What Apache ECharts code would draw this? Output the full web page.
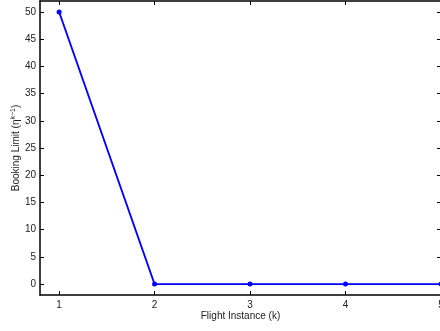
<!DOCTYPE html>
<html><head><meta charset="utf-8">
<script src="https://cdn.jsdelivr.net/npm/echarts@6/dist/echarts.min.js"></script>
<style>html,body{margin:0;padding:0;background:#fff}#c{width:440px;height:331px}</style>
</head><body><div id="c"></div>
<script>
var flightInstance = [1, 2, 3, 4, 5];
var bookingLimit = [50, 0, 0, 0, 0];
var xTicks = [1, 2, 3, 4, 5];
var yTicks = [0, 5, 10, 15, 20, 25, 30, 35, 40, 45, 50];

var chart = echarts.init(document.getElementById('c'));
var font = 'Liberation Sans, Arial, Helvetica, sans-serif';
var xMin = 0.8, xMax = 5, yMin = -2, yMax = 52;
function tickAxis(ticks) {
  return {
    axisLine: {show: true, onZero: false, lineStyle: {color: '#000', width: 1.5}},
    axisTick: {show: true, inside: true, length: 4, customValues: ticks, lineStyle: {color: '#000'}},
    splitLine: {show: false}
  };
}
var option = {
  animation: false,
  grid: {left: 40, top: 1, width: 401, height: 294, containLabel: false, outerBoundsMode: 'none'},
  xAxis: [
    Object.assign({
      type: 'value', min: xMin, max: xMax, position: 'bottom',
      name: 'Flight Instance (k)', nameLocation: 'middle', nameGap: 16, nameMoveOverlap: false,
      nameTextStyle: {fontFamily: font, fontSize: 10, color: '#222'},
      axisLabel: {customValues: xTicks, fontFamily: font, fontSize: 10, color: '#222', margin: 5}
    }, tickAxis(xTicks)),
    Object.assign({
      type: 'value', min: xMin, max: xMax, position: 'top',
      axisLabel: {show: false}
    }, tickAxis(xTicks))
  ],
  yAxis: [
    Object.assign({
      type: 'value', min: yMin, max: yMax, position: 'left',
      name: 'Booking Limit (η{sup|k−1})', nameLocation: 'middle', nameGap: 17, nameRotate: 90,
      nameMoveOverlap: false,
      nameTextStyle: {fontFamily: font, fontSize: 10, color: '#222',
        rich: {sup: {fontFamily: font, fontSize: 7, color: '#222', verticalAlign: 'top', padding: [0, 0, 6, 0]}}},
      axisLabel: {customValues: yTicks, fontFamily: font, fontSize: 10, color: '#222', margin: 4}
    }, tickAxis(yTicks)),
    Object.assign({
      type: 'value', min: yMin, max: yMax, position: 'right',
      axisLabel: {show: false}
    }, tickAxis(yTicks))
  ],
  series: [{
    type: 'line',
    data: flightInstance.map(function (x, i) { return [x, bookingLimit[i]]; }),
    symbol: 'circle', symbolSize: 5,
    lineStyle: {color: '#0000ff', width: 1.8},
    itemStyle: {color: '#0000ff'}
  }]
};
chart.setOption(option);
</script>
</body></html>
